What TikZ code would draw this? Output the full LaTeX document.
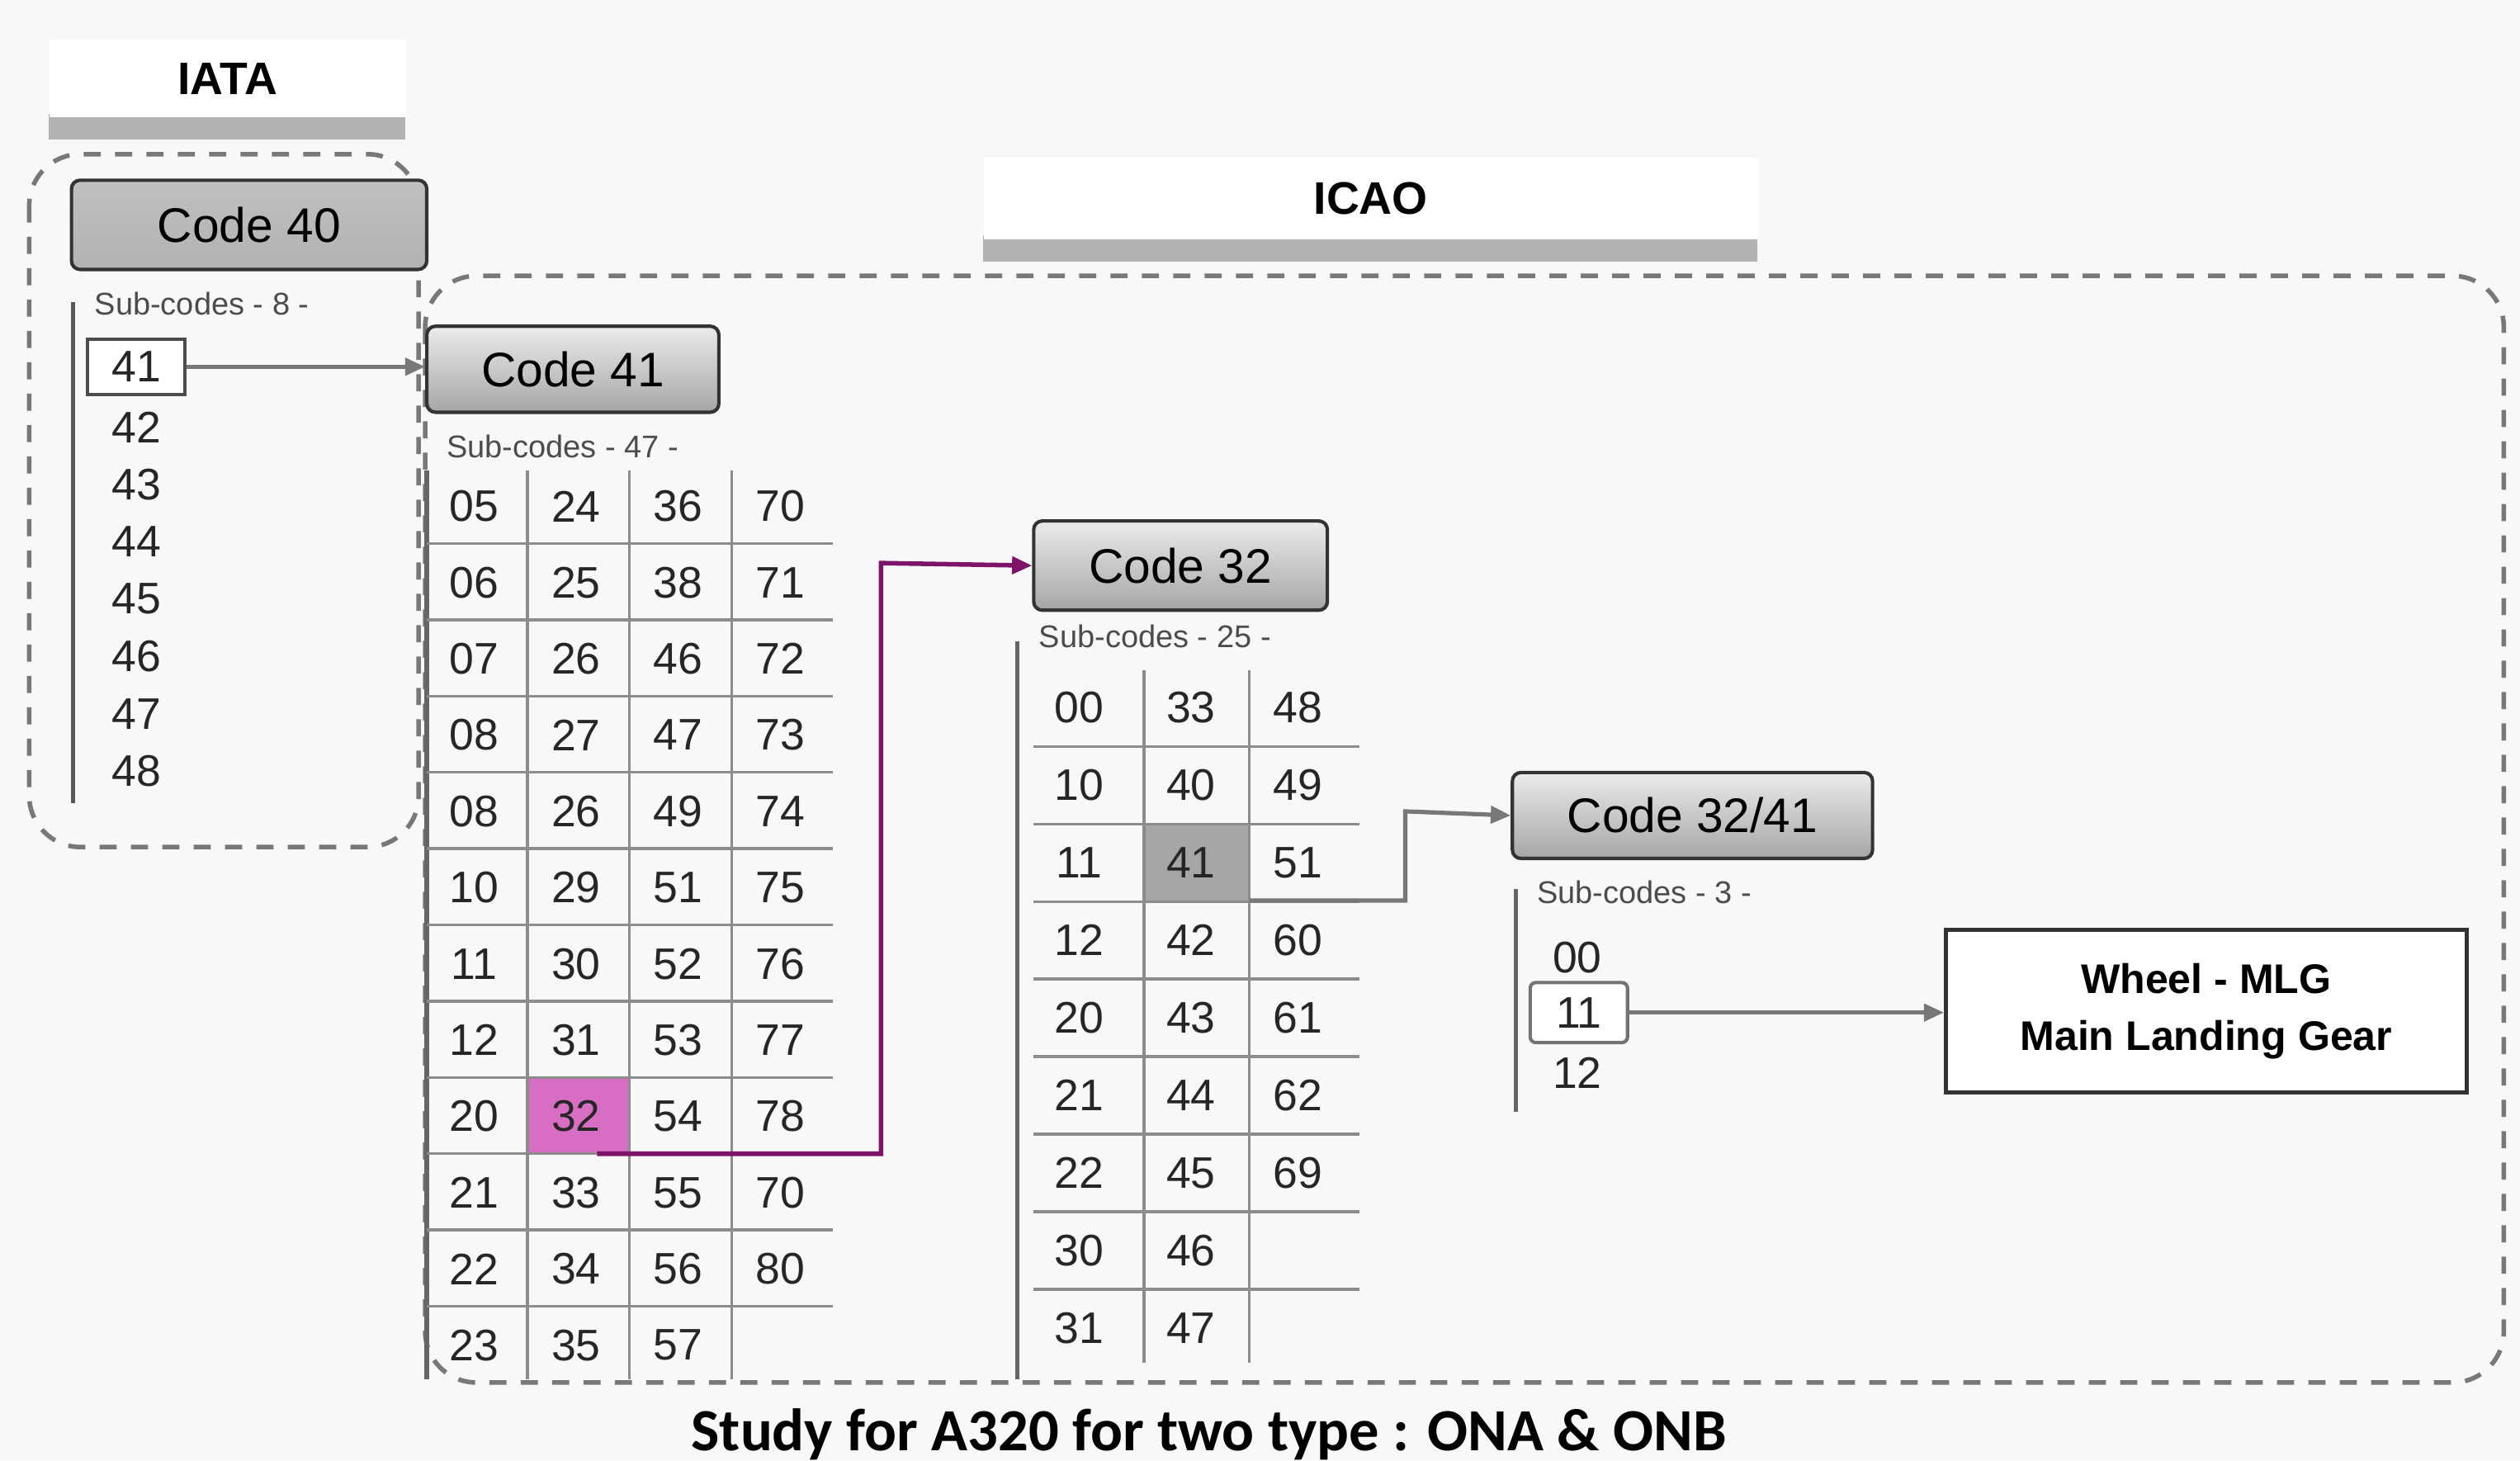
\documentclass[tikz,border=0pt]{standalone}
\usepackage{fontspec}
\setmainfont{Liberation Sans}
\newfontfamily\capfont{Carlito}
\usetikzlibrary{arrows.meta,shadows}
\definecolor{bg}{RGB}{248,248,248}
\definecolor{dgr}{RGB}{120,120,120}
\definecolor{pur}{RGB}{125,20,105}
\definecolor{mag}{RGB}{215,110,195}
\begin{document}
\begin{tikzpicture}[x=0.02cm,y=-0.02cm,
  code/.style={draw=black!80,line width=1.2pt,rounded corners=3pt,top color=white!92!black,bottom color=black!35,font=\fontsize{17}{20}\selectfont,inner sep=0pt},
  hdr/.style={fill=white,draw=none,font=\bfseries\fontsize{16}{19}\selectfont},
  sub/.style={anchor=west,font=\fontsize{11}{13}\selectfont,text=black!70,inner sep=0pt},
  num/.style={font=\fontsize{15.5}{18}\selectfont,text=black!85,inner sep=0pt},
  grid/.style={draw=black!45,line width=1pt},
  dgroup/.style={draw=dgr,line width=1.6pt,dash pattern=on 6pt off 5pt,rounded corners=18pt},
  garrow/.style={draw=dgr,line width=1.5pt,-{Triangle[length=7pt,width=6pt]}},
  parrow/.style={draw=pur,line width=1.6pt,-{Triangle[length=7pt,width=6pt]}}]
\useasboundingbox[fill=bg] (0,0) rectangle (1553,900);
% headers
\fill[black!30] (30,70) rectangle (250,86);
\node[hdr,minimum width=4.4cm,minimum height=0.96cm,anchor=north west] (iata) at (30,24) {IATA};
\fill[black!30] (606,145) rectangle (1083,161);
\node[hdr,minimum width=9.54cm,minimum height=1.0cm,anchor=north west] (icao) at (606,97) {ICAO};
% dashed groups
\draw[dgroup] (18,95) rectangle (258,522);
\draw[dgroup] (262,170) rectangle (1543,852);
% IATA part
\node[code,minimum width=4.38cm,minimum height=1.1cm,anchor=north west,top color=black!25,bottom color=black!30] (c40) at (43,110) {Code 40};
\node[sub] (s8) at (58,187) {Sub-codes - 8 -};
\draw[black!65,line width=1.5pt] (45,186) -- (45,495);
\node[num,draw=black!70,line width=1.2pt,fill=white,minimum width=1.2cm,minimum height=0.68cm] (n41) at (84,226) {41};
\foreach \v [count=\i] in {42,43,44,45,46,47,48}
  \node[num] (ia\v) at (84,228+35.3*\i) {\v};
% Code 41
\node[code,minimum width=3.6cm,minimum height=1.06cm,anchor=north west] (c41) at (262,200) {Code 41};
\draw[garrow] (n41) -- (n41 -| c41.west);
\node[sub] (s47) at (275,275) {Sub-codes - 47 -};
\fill[mag] (325,665) rectangle (388,711);
\draw[black!60,line width=1.5pt] (263,290) -- (263,850);
\foreach \x in {325,388,451} \draw[grid] (\x,290) -- (\x,850);
\foreach \k in {0,...,10} \draw[grid] (263,335+47*\k) -- (513,335+47*\k);
\foreach \r [count=\j from 0] in {{05,24,36,70},{06,25,38,71},{07,26,46,72},{08,27,47,73},{08,26,49,74},{10,29,51,75},{11,30,52,76},{12,31,53,77},{20,32,54,78},{21,33,55,70},{22,34,56,80},{23,35,57,}}
  \foreach \v [count=\i from 0] in \r
    \node[num] (a\j-\i) at (292+63*\i,312+47*\j) {\v};
% Code 32
\node[code,minimum width=3.62cm,minimum height=1.1cm,anchor=north west] (c32) at (636,320) {Code 32};
\coordinate (p0) at (368,711);
\draw[parrow] (p0) -- (543,711) -- (543,347) -- (c32.west);
\node[sub] (s25) at (640,392) {Sub-codes - 25 -};
\fill[black!35] (705,508) rectangle (770,555);
\draw[black!60,line width=1.5pt] (627,395) -- (627,850);
\foreach \x in {705,770} \draw[grid] (\x,413) -- (\x,840);
\foreach \k in {0,...,7} \draw[grid] (637,460+47.8*\k) -- (838,460+47.8*\k);
\foreach \r [count=\j from 0] in {{00,33,48},{10,40,49},{11,41,51},{12,42,60},{20,43,61},{21,44,62},{22,45,69},{30,46,},{31,47,}}
  \foreach \v [count=\i from 0] in \r
    \node[num] (b\j-\i) at ({\i==0?665:(\i==1?734:800)},436+47.8*\j) {\v};
% Code 32/41
\node[code,minimum width=4.44cm,minimum height=1.06cm,anchor=north west] (c3241) at (931,475) {Code 32/41};
\coordinate (g0) at (770,555);
\draw[garrow] (g0) -- (866,555) -- (866,500) -- (c3241.west);
\node[sub] (s3) at (947,550) {Sub-codes - 3 -};
\draw[black!60,line width=1.5pt] (934,548) -- (934,685);
\node[num] (d00) at (972,590) {00};
\node[num,draw=black!55,line width=1.2pt,rounded corners=2pt,fill=white,minimum width=1.2cm,minimum height=0.74cm] (d11) at (973,624) {11};
\node[num] (d12) at (972,661) {12};
\node[draw=black!80,line width=1.3pt,fill=white,minimum width=6.42cm,minimum height=2.0cm,align=center,font=\bfseries\fontsize{14.5}{20}\selectfont,anchor=north west] (wh) at (1198,572) {Wheel - MLG\\Main Landing Gear};
\draw[garrow] (d11) -- (d11 -| wh.west);
% caption
\node[font=\capfont\bfseries\fontsize{21}{24}\selectfont] (cap) at (745,884) {Study for A320 for two type : ONA \& ONB};
\end{tikzpicture}
\end{document}
